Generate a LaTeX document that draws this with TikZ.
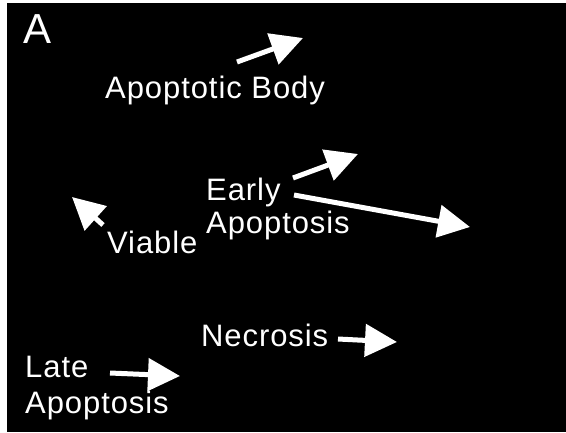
\documentclass[tikz,border=0pt]{standalone}
\usepackage{fontspec}
\setmainfont{Liberation Sans}
\newfontfamily\labfont[LetterSpace=3]{Liberation Sans}
\usetikzlibrary{arrows.meta}
\tikzset{
  lab/.style={text=white, inner sep=0pt, anchor=base west, font=\labfont\fontsize{31}{33}\selectfont},
  bigA/.style={text=white, inner sep=0pt, anchor=base west, font=\fontsize{42}{44}\selectfont},
  arr/.style={draw=white, line width=5pt, -{Triangle[length=32pt,width=32pt]}}
}
\begin{document}
\begin{tikzpicture}[x=1pt,y=-1pt]
\useasboundingbox (0,0) rectangle (566,432);
\fill[white] (0,0) rectangle (566,432);
\fill[black] (7,3) rectangle (566,432);
\node[bigA] (panel) at (23,43) {A};
\node[lab] (body) at (105,98) {Apoptotic Body};
\node[lab] (early1) at (206,200) {Early};
\node[lab] (early2) at (206,233) {Apoptosis};
\node[lab] (viable) at (107,253) {Viable};
\node[lab] (necro) at (201,346) {Necrosis};
\node[lab] (late1) at (25,377) {Late};
\node[lab] (late2) at (25,413) {Apoptosis};
\coordinate (t1) at (237,62);  \coordinate (h1) at (303,38);
\coordinate (t2) at (293,178); \coordinate (h2) at (358,154);
\coordinate (t3) at (294,195); \coordinate (h3) at (470,227);
\coordinate (t4) at (103,225); \coordinate (h4) at (72,197);
\coordinate (t5) at (338,339); \coordinate (h5) at (397,342);
\coordinate (t6) at (110,373); \coordinate (h6) at (180,376);
\draw[arr] (t1) -- (h1);
\draw[arr] (t2) -- (h2);
\draw[arr] (t3) -- (h3);
\draw[arr] (t4) -- (h4);
\draw[arr] (t5) -- (h5);
\draw[arr] (t6) -- (h6);
\end{tikzpicture}
\end{document}
